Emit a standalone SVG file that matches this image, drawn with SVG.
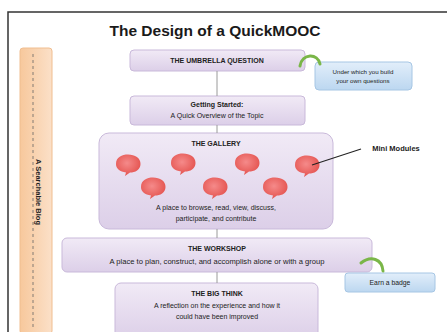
<svg xmlns="http://www.w3.org/2000/svg" width="447" height="332" viewBox="0 0 447 332">
<defs>
<linearGradient id="purp" x1="0" y1="0" x2="0" y2="1">
<stop offset="0" stop-color="#f1eaf6"/><stop offset="1" stop-color="#dccfe8"/>
</linearGradient>
<linearGradient id="blue" x1="0" y1="0" x2="0" y2="1">
<stop offset="0" stop-color="#e2eefa"/><stop offset="1" stop-color="#bcd7f0"/>
</linearGradient>
<linearGradient id="orange" x1="0" y1="0" x2="1" y2="0">
<stop offset="0" stop-color="#f7c89c"/><stop offset="1" stop-color="#fbe0c8"/>
</linearGradient>
<radialGradient id="red" cx="0.45" cy="0.4" r="0.6">
<stop offset="0" stop-color="#f58a8a"/><stop offset="1" stop-color="#e4534f"/>
</radialGradient>
<g id="blob">
<path d="M-12,0 C-12,-7 -6,-9.5 0,-9.5 C7,-9.5 12.5,-6 12.5,0 C12.5,6 7,8.5 2,8.5 L-3,12 L-2,8.5 C-8,7.5 -12,5 -12,0 Z" fill="url(#red)"/>
</g>
</defs>
<style>
.box{fill:url(#purp);stroke:#c9b9da;stroke-width:1}
.bbox{fill:url(#blue);stroke:#a6c6e4;stroke-width:1}
text{font-family:"Liberation Sans",Arial,sans-serif;fill:#222;text-anchor:middle}
.h{font-weight:bold;font-size:7px}
.t{font-size:7px}
.s{font-size:6.2px}
.conn{stroke:#9a9a9a;stroke-width:1;fill:none}
.green{stroke:#7ab648;stroke-width:3;fill:none;stroke-linecap:round}
</style>
<rect x="0" y="0" width="447" height="332" fill="#ffffff"/>
<rect x="8" y="12" width="460" height="340" fill="none" stroke="#333" stroke-width="1.5"/>
<text x="215" y="36" style="font-size:15.5px;font-weight:bold;fill:#1a1a1a">The Design of a QuickMOOC</text>

<g id="blog">
<rect x="20" y="48" width="32" height="286" rx="3" fill="url(#orange)" stroke="#f0be90"/>
<line x1="33" y1="54" x2="33" y2="328" stroke="#666" stroke-width="0.8" stroke-dasharray="3,3"/>
<text transform="translate(36,192) rotate(90)" class="h" style="font-size:7.5px">A Searchable Blog</text>
</g>

<g id="umbrella">
<rect class="box" x="130" y="50" width="175" height="21" rx="4"/>
<text class="h" x="217" y="63">THE UMBRELLA QUESTION</text>
</g>

<g id="question-note">
<rect class="bbox" x="315" y="62" width="97" height="28" rx="4"/>
<text class="s" x="363" y="74">Under which you build</text>
<text class="s" x="363" y="83">your own questions</text>
</g>

<g id="getting-started">
<rect class="box" x="130" y="96" width="175" height="29" rx="4"/>
<text class="h" x="217" y="107">Getting Started:</text>
<text class="t" x="217" y="118">A Quick Overview of the Topic</text>
</g>

<g id="gallery">
<rect class="box" x="99" y="133" width="234" height="96" rx="10"/>
<text class="h" x="216" y="146">THE GALLERY</text>
<use href="#blob" x="128" y="164"/>
<use href="#blob" x="183" y="163"/>
<use href="#blob" x="247" y="163"/>
<use href="#blob" x="307" y="165"/>
<use href="#blob" x="153" y="187"/>
<use href="#blob" x="215" y="187"/>
<use href="#blob" x="275" y="187"/>
<text class="t" x="216" y="210">A place to browse, read, view, discuss,</text>
<text class="t" x="216" y="221">participate, and contribute</text>
</g>

<g id="mini-modules">
<text class="h" x="396" y="151" style="font-size:7.5px">Mini Modules</text>
</g>

<g id="workshop">
<rect class="box" x="62" y="238" width="310" height="34" rx="5"/>
<text class="h" x="217" y="251">THE WORKSHOP</text>
<text class="t" x="217" y="264" style="font-size:7.6px">A place to plan, construct, and accomplish alone or with a group</text>
</g>

<g id="badge">
<rect class="bbox" x="345" y="273" width="90" height="19" rx="3"/>
<text class="s" x="390" y="285" style="font-size:6.8px">Earn a badge</text>
</g>

<g id="big-think">
<rect class="box" x="115" y="283" width="203" height="56" rx="6"/>
<text class="h" x="217" y="296">THE BIG THINK</text>
<text class="t" x="217" y="308">A reflection on the experience and how it</text>
<text class="t" x="217" y="319">could have been improved</text>
</g>

<g id="connectors">
<line class="conn" x1="217" y1="71" x2="217" y2="96"/>
<line class="conn" x1="217" y1="125" x2="217" y2="133"/>
<line class="conn" x1="217" y1="229" x2="217" y2="238"/>
<line class="conn" x1="217" y1="272" x2="217" y2="283"/>
<path class="green" d="M300,66 C302,53 318,53 320,64"/>
<path class="green" d="M361,263 C371,255 382,259 383,271"/>
<line x1="312" y1="165" x2="361" y2="149" stroke="#222" stroke-width="1.2"/>
</g>
</svg>
